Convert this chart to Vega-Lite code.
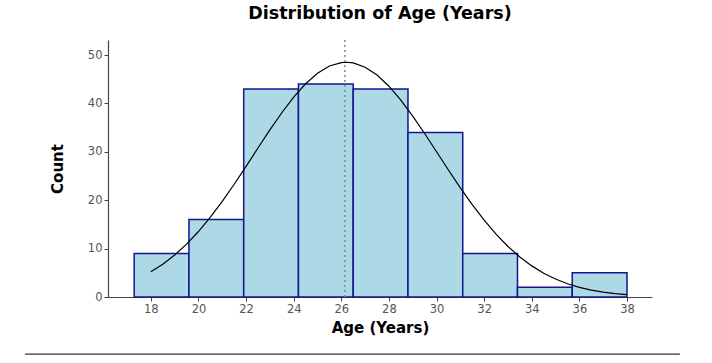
{
  "$schema": "https://vega.github.io/schema/vega-lite/v6.json",
  "width": 544,
  "height": 257,
  "autosize": {"type": "none"},
  "padding": {"left": 108, "top": 40, "right": 60, "bottom": 66},
  "background": "white",
  "title": {
    "text": "Distribution of Age (Years)",
    "font": "DejaVu Sans",
    "fontSize": 17.5,
    "fontWeight": "bold",
    "color": "black",
    "anchor": "middle",
    "offset": 17
  },
  "config": {
    "view": {"stroke": null},
    "axis": {
      "grid": false,
      "domainColor": "#444444",
      "domainWidth": 1.2,
      "tickColor": "#444444",
      "tickSize": 4,
      "labelFont": "DejaVu Sans",
      "labelFontSize": 11.5,
      "labelColor": "#555555",
      "titleFont": "DejaVu Sans",
      "titleFontSize": 15,
      "titleFontWeight": "bold",
      "titleColor": "black"
    }
  },
  "datasets": {
    "bins": [
      {"start": 17.3, "end": 19.6, "count": 9},
      {"start": 19.6, "end": 21.9, "count": 16},
      {"start": 21.9, "end": 24.2, "count": 43},
      {"start": 24.2, "end": 26.5, "count": 44},
      {"start": 26.5, "end": 28.8, "count": 43},
      {"start": 28.8, "end": 31.1, "count": 34},
      {"start": 31.1, "end": 33.4, "count": 9},
      {"start": 33.4, "end": 35.7, "count": 2},
      {"start": 35.7, "end": 38.0, "count": 5}
    ],
    "curve": [
      {"age": 18, "density": 5.2}, {"age": 18.5, "density": 6.77}, {"age": 19, "density": 8.67},
      {"age": 19.5, "density": 10.92}, {"age": 20, "density": 13.53}, {"age": 20.5, "density": 16.49},
      {"age": 21, "density": 19.76}, {"age": 21.5, "density": 23.29}, {"age": 22, "density": 27.0},
      {"age": 22.5, "density": 30.78}, {"age": 23, "density": 34.52}, {"age": 23.5, "density": 38.07},
      {"age": 24, "density": 41.3}, {"age": 24.5, "density": 44.06}, {"age": 25, "density": 46.23},
      {"age": 25.5, "density": 47.72}, {"age": 26, "density": 48.44}, {"age": 26.2, "density": 48.5},
      {"age": 26.5, "density": 48.36}, {"age": 27, "density": 47.48}, {"age": 27.5, "density": 45.85},
      {"age": 28, "density": 43.55}, {"age": 28.5, "density": 40.69}, {"age": 29, "density": 37.38},
      {"age": 29.5, "density": 33.78}, {"age": 30, "density": 30.02}, {"age": 30.5, "density": 26.24},
      {"age": 31, "density": 22.56}, {"age": 31.5, "density": 19.08}, {"age": 32, "density": 15.87},
      {"age": 32.5, "density": 12.98}, {"age": 33, "density": 10.44}, {"age": 33.5, "density": 8.26},
      {"age": 34, "density": 6.43}, {"age": 34.5, "density": 4.92}, {"age": 35, "density": 3.71},
      {"age": 35.5, "density": 2.74}, {"age": 36, "density": 2.0}, {"age": 36.5, "density": 1.43},
      {"age": 37, "density": 1.01}, {"age": 37.5, "density": 0.7}, {"age": 38, "density": 0.48}
    ]
  },
  "layer": [
    {
      "data": {"name": "bins"},
      "mark": {"type": "rect", "fill": "#add8e6", "stroke": "#14148f", "strokeWidth": 1.5},
      "encoding": {
        "x": {
          "field": "start", "type": "quantitative",
          "scale": {"domain": [16.2, 39.05], "nice": false, "zero": false},
          "axis": {"values": [18, 20, 22, 24, 26, 28, 30, 32, 34, 36, 38], "title": "Age (Years)", "titlePadding": 6}
        },
        "x2": {"field": "end"},
        "y": {
          "field": "count", "type": "quantitative",
          "scale": {"domain": [0, 53.1], "nice": false},
          "axis": {"values": [0, 10, 20, 30, 40, 50], "title": "Count", "titlePadding": 22}
        },
        "y2": {"datum": 0}
      }
    },
    {
      "data": {"name": "curve"},
      "mark": {"type": "line", "color": "black", "strokeWidth": 1.2},
      "encoding": {
        "x": {"field": "age", "type": "quantitative"},
        "y": {"field": "density", "type": "quantitative"}
      }
    },
    {
      "data": {"values": [{"mean": 26.15}]},
      "mark": {"type": "rule", "color": "#888888", "strokeDash": [2, 3], "strokeWidth": 1.5},
      "encoding": {
        "x": {"field": "mean", "type": "quantitative"},
        "y": {"datum": 0},
        "y2": {"datum": 53.1}
      }
    },
    {
      "data": {"values": [{"a": 12.71, "b": 40.22, "c": -11.8}]},
      "mark": {"type": "rule", "color": "#333333", "strokeWidth": 1.2},
      "encoding": {
        "x": {"field": "a", "type": "quantitative"},
        "x2": {"field": "b"},
        "y": {"field": "c", "type": "quantitative"}
      }
    }
  ]
}
